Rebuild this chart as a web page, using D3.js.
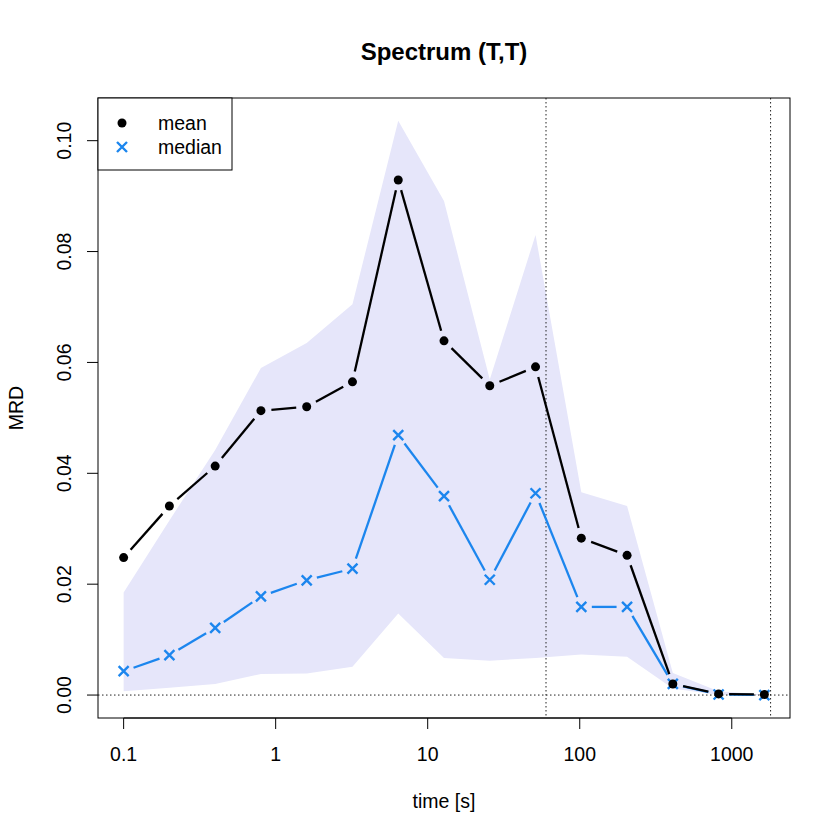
<!DOCTYPE html>
<html lang="en">
  <head>
    <meta charset="UTF-8" />
    <title>Spectrum (T,T)</title>
    <script src="https://d3js.org/d3.v7.min.js"></script>
    <style>
      body { margin: 0; background: #fff; }
      text { font-family: "Liberation Sans", Arial, sans-serif; }
    </style>
  </head>
  <body>
    <svg id="chart" width="840" height="840"></svg>
    <script>
      // time lags (s)
      const times = [0.1, 0.2, 0.4, 0.8, 1.6, 3.2, 6.4, 12.8, 25.6, 51.2, 102.4, 204.8, 409.6, 819.2, 1638.4]
      const meanVals = [0.0248, 0.0341, 0.0413, 0.0513, 0.0520, 0.0565, 0.0929, 0.0639, 0.0558, 0.0592, 0.0283, 0.0252, 0.0020, 0.0002, 0.0001]
      const medianVals = [0.0043, 0.0072, 0.0121, 0.0178, 0.0207, 0.0228, 0.0469, 0.0359, 0.0208, 0.0364, 0.0159, 0.0159, 0.0020, 0.0001, 0.0000]
      const bandUpper = [0.0185, 0.0315, 0.0442, 0.0590, 0.0635, 0.0705, 0.1036, 0.0891, 0.0569, 0.0830, 0.0366, 0.0341, 0.0040, 0.0007, 0.0001]
      const bandLower = [0.0007, 0.0013, 0.0020, 0.0038, 0.0039, 0.0051, 0.0147, 0.0067, 0.0062, 0.0067, 0.0073, 0.0069, 0.0012, 0.0000, 0.0000]
      const xTicks = [0.1, 1, 10, 100, 1000]
      const yTicks = [0, 0.02, 0.04, 0.06, 0.08, 0.1]
      const refTimes = [60, 1800]

      const svg = d3.select('#chart')
      const pLeft = 98, pRight = 790, pTop = 98, pBottom = 718
      const fs = 19.5

      const x = d3.scaleLog()
        .domain([Math.pow(10, -1.1686), Math.pow(10, 3.383)])
        .range([pLeft, pRight])
      const y = d3.scaleLinear()
        .domain([-0.00414, 0.1077])
        .range([pBottom, pTop])

      const blue = '#1C86EE'

      // confidence band
      const area = d3.area()
        .x((d, i) => x(times[i]))
        .y0((d, i) => y(bandLower[i]))
        .y1((d, i) => y(bandUpper[i]))
      svg.append('path')
        .datum(times)
        .attr('d', area)
        .attr('fill', '#E6E6FA')

      // reference lines
      svg.append('line')
        .attr('x1', pLeft).attr('x2', pRight)
        .attr('y1', y(0)).attr('y2', y(0))
        .attr('stroke', '#222').attr('stroke-dasharray', '1.5,2.5')
      svg.selectAll('.vref')
        .data(refTimes)
        .join('line')
        .attr('x1', d => x(d)).attr('x2', d => x(d))
        .attr('y1', pTop).attr('y2', pBottom)
        .attr('stroke', '#222').attr('stroke-dasharray', '1.5,2.5')

      // R type="b" lines: segments with gaps around the points
      function gappedLines(vals, color) {
        const pts = times.map((t, i) => [x(t), y(vals[i])])
        const gap = 10.5
        const segs = []
        for (let i = 0; i < pts.length - 1; i++) {
          const [x0, y0] = pts[i], [x1, y1] = pts[i + 1]
          const len = Math.hypot(x1 - x0, y1 - y0)
          if (len <= 2 * gap) continue
          const ux = (x1 - x0) / len, uy = (y1 - y0) / len
          segs.push([x0 + ux * gap, y0 + uy * gap, x1 - ux * gap, y1 - uy * gap])
        }
        svg.append('g').selectAll('line')
          .data(segs)
          .join('line')
          .attr('x1', d => d[0]).attr('y1', d => d[1])
          .attr('x2', d => d[2]).attr('y2', d => d[3])
          .attr('stroke', color).attr('stroke-width', 2.3)
      }

      function crosses(g, pts, color, s) {
        g.selectAll('path')
          .data(pts)
          .join('path')
          .attr('d', d => `M${d[0] - s},${d[1] - s}L${d[0] + s},${d[1] + s}M${d[0] - s},${d[1] + s}L${d[0] + s},${d[1] - s}`)
          .attr('stroke', color).attr('stroke-width', 2.4).attr('fill', 'none')
      }

      // median
      gappedLines(medianVals, blue)
      crosses(svg.append('g'), times.map((t, i) => [x(t), y(medianVals[i])]), blue, 5)

      // mean
      gappedLines(meanVals, '#000')
      svg.append('g').selectAll('circle')
        .data(times)
        .join('circle')
        .attr('cx', d => x(d))
        .attr('cy', (d, i) => y(meanVals[i]))
        .attr('r', 4.5)
        .attr('fill', '#000')

      // box
      svg.append('rect')
        .attr('x', pLeft).attr('y', pTop)
        .attr('width', pRight - pLeft).attr('height', pBottom - pTop)
        .attr('fill', 'none').attr('stroke', '#000').attr('stroke-width', 1)

      // x axis
      const xAxis = svg.append('g')
      xAxis.append('line')
        .attr('x1', x(xTicks[0])).attr('x2', x(xTicks[xTicks.length - 1]))
        .attr('y1', pBottom).attr('y2', pBottom).attr('stroke', '#000')
      xAxis.selectAll('.tk').data(xTicks).join('line')
        .attr('x1', d => x(d)).attr('x2', d => x(d))
        .attr('y1', pBottom).attr('y2', pBottom + 11)
        .attr('stroke', '#000')
      xAxis.selectAll('text').data(xTicks).join('text')
        .attr('x', d => x(d)).attr('y', 761)
        .attr('text-anchor', 'middle')
        .attr('font-size', fs)
        .text(d => String(d))

      // y axis
      const yAxis = svg.append('g')
      yAxis.selectAll('.tk').data(yTicks).join('line')
        .attr('x1', pLeft - 11).attr('x2', pLeft)
        .attr('y1', d => y(d)).attr('y2', d => y(d))
        .attr('stroke', '#000')
      yAxis.selectAll('text').data(yTicks).join('text')
        .attr('transform', d => `translate(71,${y(d)}) rotate(-90)`)
        .attr('text-anchor', 'middle')
        .attr('font-size', fs)
        .text(d => d3.format('.2f')(d))

      // titles
      svg.append('text')
        .attr('x', (pLeft + pRight) / 2).attr('y', 60)
        .attr('text-anchor', 'middle')
        .attr('font-size', 24).attr('font-weight', 'bold')
        .text('Spectrum (T,T)')
      svg.append('text')
        .attr('x', (pLeft + pRight) / 2).attr('y', 808)
        .attr('text-anchor', 'middle')
        .attr('font-size', fs)
        .text('time [s]')
      svg.append('text')
        .attr('transform', `translate(23,${(pTop + pBottom) / 2}) rotate(-90)`)
        .attr('text-anchor', 'middle')
        .attr('font-size', fs)
        .text('MRD')

      // legend
      const legend = svg.append('g')
      legend.append('rect')
        .attr('x', pLeft).attr('y', pTop)
        .attr('width', 134).attr('height', 72)
        .attr('fill', '#fff').attr('stroke', '#000')
      legend.append('circle').attr('cx', 122).attr('cy', 123).attr('r', 4.5).attr('fill', '#000')
      crosses(legend.append('g'), [[122, 147]], blue, 5)
      legend.append('text').attr('x', 158).attr('y', 130).attr('font-size', fs).text('mean')
      legend.append('text').attr('x', 158).attr('y', 154).attr('font-size', fs).text('median')
    </script>
  </body>
</html>
